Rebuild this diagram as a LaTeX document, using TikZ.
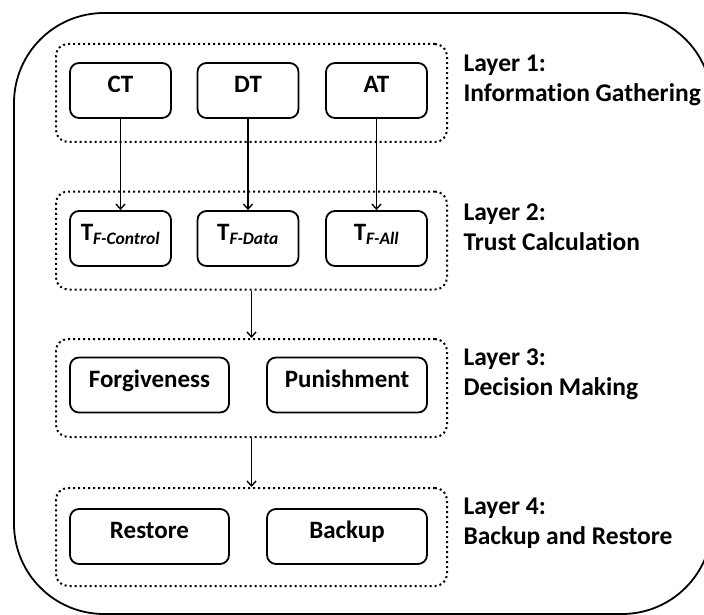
\documentclass[tikz,border=0pt]{standalone}
\usepackage{fontspec}
\setmainfont[Ligatures=NoCommon]{Carlito}
\usetikzlibrary{arrows.meta}

\tikzset{
  layerbox/.style={draw, line width=2pt, dash pattern=on 2pt off 3pt, rounded corners=12pt,
    minimum width=391pt, minimum height=98pt},
  itembox/.style={draw, line width=1.8pt, rounded corners=9pt, minimum height=55pt,
    text height=12pt, text depth=8pt, font=\fontsize{25}{28}\selectfont\bfseries},
  layerlabel/.style={anchor=west, align=left, font=\fontsize{25.5}{30}\selectfont\bfseries},
  flow/.style={->, >={Straight Barb[length=5pt,width=9pt]}, line width=1.4pt}
}

\begin{document}
\begin{tikzpicture}[x=1pt,y=-1pt]
            \useasboundingbox (0,0) rectangle (704,615);
            \draw[line width=1.8pt, rounded corners=90pt] (14,13) rectangle (712,614);

            % layers
            \node[layerbox] (lay1) at (251.5,93) {};
            \node[layerbox] (lay2) at (251.5,240.5) {};
            \node[layerbox] (lay3) at (251.5,388) {};
            \node[layerbox] (lay4) at (251.5,537) {};

            % layer 1
            \node[itembox, minimum width=101pt] (ct) at (120.5,90.5) {CT};
            \node[itembox, minimum width=101pt] (dt) at (248,90.5) {DT};
            \node[itembox, minimum width=101pt] (at) at (376.5,90.5) {AT};

            % layer 2
            \node[itembox, minimum width=101pt] (tcontrol) at (120.5,238.5) {T\textsubscript{\textit{F-Control}}};
            \node[itembox, minimum width=101pt] (tdata) at (248,238.5) {T\textsubscript{\textit{F-Data}}};
            \node[itembox, minimum width=101pt] (tall) at (376.5,238.5) {T\textsubscript{\textit{F-All}}};

            % layer 3
            \node[itembox, minimum width=159pt] (forgive) at (149.5,385) {Forgiveness};
            \node[itembox, minimum width=160pt] (punish) at (347,385) {Punishment};

            % layer 4
            \node[itembox, minimum width=159pt] (restore) at (149.5,536.5) {Restore};
            \node[itembox, minimum width=160pt] (backup) at (347,536.5) {Backup};

            \draw[flow] (ct) -- (tcontrol);
            \draw[flow] (dt) -- (tdata);
            \draw[flow] (at) -- (tall);
            \draw[flow] (lay2.south) -- (lay3.north);
            \draw[flow] (lay3.south) -- (lay4.north);

            \node[layerlabel] (lab1) at (460,80) {Layer 1:\\Information Gathering};
            \node[layerlabel] (lab2) at (460,227.5) {Layer 2:\\Trust Calculation};
            \node[layerlabel] (lab3) at (460,374.5) {Layer 3:\\Decision Making};
            \node[layerlabel] (lab4) at (460,523) {Layer 4:\\Backup and Restore};
        \end{tikzpicture}
\end{document}
